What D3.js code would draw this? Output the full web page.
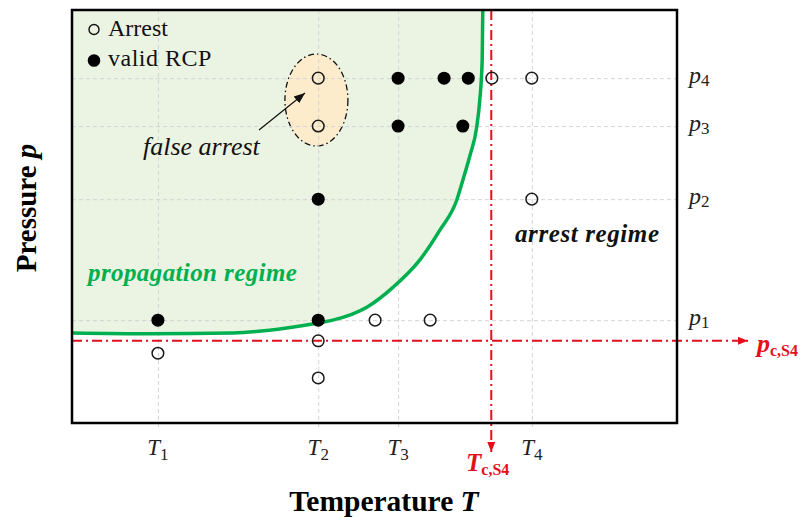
<!DOCTYPE html>
<html>
<head>
<meta charset="utf-8">
<script src="https://cdn.jsdelivr.net/npm/d3@7"></script>
<style>
  html, body { margin: 0; padding: 0; background: #fff; }
  svg { display: block; }
</style>
</head>
<body>
<svg id="chart" width="803" height="517" font-family="'Liberation Serif', 'Times New Roman', 'DejaVu Serif', serif"></svg>
<script>
// Temperature / pressure positions of the test conditions (arbitrary units)
const tempTicks = [14.2, 40.7, 53.9, 76.0];
const tempTickLabels = ["1", "2", "3", "4"];
const pressTicks = [24.9, 54.2, 71.9, 83.5];
const pressTickLabels = ["1", "2", "3", "4"];

// Tests where a running crack propagated (valid RCP) — [T, p]
const rcpPoints = [
  [14.2, 24.9], [40.7, 24.9], [40.7, 54.2],
  [53.9, 71.9], [64.6, 71.9],
  [53.9, 83.5], [61.5, 83.5], [65.5, 83.5]
];
// Tests where the crack arrested — [T, p]
const arrestPoints = [
  [14.2, 16.9], [40.7, 19.9], [40.7, 10.9],
  [50.1, 24.9], [59.2, 24.9],
  [40.7, 71.9], [40.7, 83.5],
  [76.0, 54.2], [76.0, 83.5], [69.4, 83.5]
];
// The two arrests that fall inside the propagation regime
const falseArrestCentre = [40.4, 78.2];

// Critical temperature and pressure of S4
const critTemp = 69.3;
const critPress = 19.9;

// Boundary between propagation and arrest regimes
const boundaryT = [0, 12.9, 26.6, 35.5, 40.7, 43.1, 48.8, 53.1, 57.5, 60.8, 63.6, 64.6, 65.8, 66.9, 67.4, 67.8, 67.9];
const boundaryP = [21.8, 21.6, 21.8, 23.0, 24.2, 24.9, 28.1, 32.9, 39.5, 46.7, 54.0, 58.8, 64.9, 71.7, 78.2, 87.9, 100];

const svg = d3.select("#chart");
const plotLeft = 72, plotRight = 677, plotTop = 10, plotBottom = 423;

const x = d3.scaleLinear().domain([0, 100]).range([plotLeft, plotRight]);
const y = d3.scaleLinear().domain([0, 100]).range([plotBottom, plotTop]);

const red = "#e3101c";
const green = "#00b050";

svg.append("rect").attr("width", 803).attr("height", 517).attr("fill", "#fff");

const boundary = boundaryT.map((t, i) => [t, boundaryP[i]]);

// propagation regime shading (above / left of the boundary)
svg.append("path")
  .datum(boundary)
  .attr("fill", "#ebf3e3")
  .attr("d", d3.area()
    .x(d => x(d[0]))
    .y0(d => y(d[1]))
    .y1(y(100))
    .curve(d3.curveMonotoneX));

// false-arrest zone
const ex = x(falseArrestCentre[0]), ey = y(falseArrestCentre[1]);
svg.append("ellipse")
  .attr("cx", ex).attr("cy", ey)
  .attr("rx", 31.5).attr("ry", 46)
  .attr("fill", "#fdeccb")
  .attr("stroke", "#111")
  .attr("stroke-width", 1.3)
  .attr("stroke-dasharray", "6,3,1.5,3");

// gridlines through the test temperatures and pressures
const gridX = svg.append("g")
  .attr("transform", `translate(0,${plotBottom})`)
  .call(d3.axisBottom(x).tickValues(tempTicks).tickSizeInner(-(plotBottom - plotTop)).tickSizeOuter(0).tickFormat(""));
gridX.select(".domain").remove();
gridX.selectAll(".tick line")
  .attr("y1", 4)
  .attr("stroke", "#d4d4d4").attr("stroke-width", 1).attr("stroke-dasharray", "4,3");

const gridY = svg.append("g")
  .attr("transform", `translate(${plotLeft},0)`)
  .call(d3.axisLeft(y).tickValues(pressTicks).tickSizeInner(-(plotRight - plotLeft)).tickSizeOuter(0).tickFormat(""));
gridY.select(".domain").remove();
gridY.selectAll(".tick line")
  .attr("stroke", "#d4d4d4").attr("stroke-width", 1).attr("stroke-dasharray", "4,3");

// regime boundary
svg.append("path")
  .datum(boundary)
  .attr("fill", "none")
  .attr("stroke", green)
  .attr("stroke-width", 3.5)
  .attr("d", d3.line()
    .x(d => x(d[0]))
    .y(d => y(d[1]))
    .curve(d3.curveMonotoneX));

// arrowheads
const defs = svg.append("defs");
defs.append("marker")
  .attr("id", "redArrow")
  .attr("viewBox", "0 0 10 10")
  .attr("refX", 10).attr("refY", 5)
  .attr("markerWidth", 10).attr("markerHeight", 10)
  .attr("markerUnits", "userSpaceOnUse")
  .attr("orient", "auto")
  .append("path").attr("d", "M0,1 L10,5 L0,9 Z").attr("fill", red);
defs.append("marker")
  .attr("id", "blackArrow")
  .attr("viewBox", "0 0 10 10")
  .attr("refX", 10).attr("refY", 5)
  .attr("markerWidth", 11).attr("markerHeight", 11)
  .attr("markerUnits", "userSpaceOnUse")
  .attr("orient", "auto")
  .append("path").attr("d", "M0,1 L10,5 L0,9 Z").attr("fill", "#111");

// critical pressure and temperature lines
svg.append("line")
  .attr("x1", x(0)).attr("x2", 748)
  .attr("y1", y(critPress)).attr("y2", y(critPress))
  .attr("stroke", red).attr("stroke-width", 2)
  .attr("stroke-dasharray", "10,4,2,4")
  .attr("marker-end", "url(#redArrow)");
svg.append("line")
  .attr("x1", x(critTemp)).attr("x2", x(critTemp))
  .attr("y1", y(100)).attr("y2", 452)
  .attr("stroke", red).attr("stroke-width", 2)
  .attr("stroke-dasharray", "10,4,2,4")
  .attr("marker-end", "url(#redArrow)");

// test points
svg.append("g").selectAll("circle")
  .data(arrestPoints).join("circle")
  .attr("cx", d => x(d[0])).attr("cy", d => y(d[1]))
  .attr("r", 5.8)
  .attr("fill", "none")
  .attr("stroke", "#1a1a1a").attr("stroke-width", 1.5);
svg.append("g").selectAll("circle")
  .data(rcpPoints).join("circle")
  .attr("cx", d => x(d[0])).attr("cy", d => y(d[1]))
  .attr("r", 6.5)
  .attr("fill", "#000");

// frame
svg.append("rect")
  .attr("x", plotLeft).attr("y", plotTop)
  .attr("width", plotRight - plotLeft).attr("height", plotBottom - plotTop)
  .attr("fill", "none").attr("stroke", "#000").attr("stroke-width", 2.5);

// legend
svg.append("circle").attr("cx", 94).attr("cy", 29.5).attr("r", 5)
  .attr("fill", "none").attr("stroke", "#111").attr("stroke-width", 1.4);
svg.append("circle").attr("cx", 94).attr("cy", 60.5).attr("r", 6.3).attr("fill", "#000");
svg.append("text").attr("x", 108).attr("y", 36).attr("font-size", 24).attr("fill", "#111").text("Arrest");
svg.append("text").attr("x", 108).attr("y", 66).attr("font-size", 24).attr("letter-spacing", 0.5).attr("fill", "#111").text("valid RCP");

// false arrest annotation
svg.append("line")
  .attr("x1", 259).attr("y1", 130).attr("x2", 305).attr("y2", 93)
  .attr("stroke", "#111").attr("stroke-width", 1.2)
  .attr("marker-end", "url(#blackArrow)");
svg.append("text").attr("x", 143).attr("y", 155)
  .attr("font-size", 26).attr("font-style", "italic").attr("fill", "#111")
  .text("false arrest");

// regime labels
svg.append("text").attr("x", 88).attr("y", 281)
  .attr("font-size", 25).attr("font-style", "italic").attr("font-weight", "bold")
  .attr("letter-spacing", 0.4)
  .attr("fill", green).text("propagation regime");
svg.append("text").attr("x", 515).attr("y", 242)
  .attr("font-size", 25).attr("font-style", "italic").attr("font-weight", "bold")
  .attr("letter-spacing", 0.6)
  .attr("fill", "#111").text("arrest regime");

// temperature tick labels
tempTicks.forEach((t, i) => {
  const lab = svg.append("text").attr("x", x(t)).attr("y", 455)
    .attr("text-anchor", "middle").attr("fill", "#222");
  lab.append("tspan").attr("font-size", 23).attr("font-style", "italic").text("T");
  lab.append("tspan").attr("font-size", 17).attr("dy", 5).text(tempTickLabels[i]);
});

// pressure tick labels
pressTicks.forEach((p, i) => {
  const lab = svg.append("text").attr("x", 689).attr("y", y(p) + 5).attr("fill", "#222");
  lab.append("tspan").attr("font-size", 24).attr("font-style", "italic").text("p");
  lab.append("tspan").attr("font-size", 17).attr("dy", 3).text(pressTickLabels[i]);
});

// critical value labels
const tc = svg.append("text").attr("x", 466).attr("y", 471).attr("fill", red).attr("font-weight", "bold");
tc.append("tspan").attr("font-size", 25).attr("font-style", "italic").text("T");
tc.append("tspan").attr("font-size", 16).attr("dy", 4).text("c,S4");

const pc = svg.append("text").attr("x", 757).attr("y", 352).attr("fill", red).attr("font-weight", "bold");
pc.append("tspan").attr("font-size", 26).attr("font-style", "italic").text("p");
pc.append("tspan").attr("font-size", 16).attr("dy", 4).text("c,S4");

// axis titles
const xt = svg.append("text").attr("x", 384).attr("y", 511)
  .attr("text-anchor", "middle").attr("font-size", 29.5).attr("font-weight", "bold").attr("fill", "#000");
xt.append("tspan").text("Temperature ");
xt.append("tspan").attr("font-style", "italic").text("T");

const yt = svg.append("text")
  .attr("transform", "translate(36,208) rotate(-90)")
  .attr("text-anchor", "middle").attr("font-size", 29).attr("font-weight", "bold").attr("fill", "#000");
yt.append("tspan").text("Pressure ");
yt.append("tspan").attr("font-style", "italic").text("p");
</script>
</body>
</html>
